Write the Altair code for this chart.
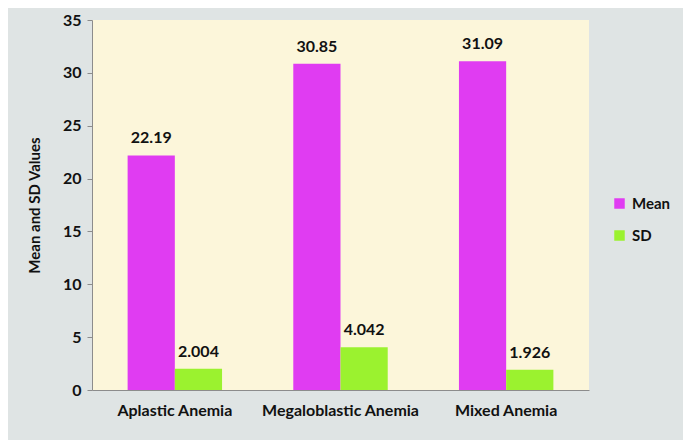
import altair as alt
import pandas as pd

categories = ["Aplastic Anemia", "Megaloblastic Anemia", "Mixed Anemia"]
series = ["Mean", "SD"]
mean_values = [22.19, 30.85, 31.09]
sd_values = [2.004, 4.042, 1.926]
mean_labels = ["22.19", "30.85", "31.09"]
sd_labels = ["2.004", "4.042", "1.926"]

rows = []
for i, c in enumerate(categories):
    rows.append({"cat": c, "series": "Mean", "value": mean_values[i], "label": mean_labels[i]})
    rows.append({"cat": c, "series": "SD", "value": sd_values[i], "label": sd_labels[i]})
df = pd.DataFrame(rows)

FONT = "Lato"

x = alt.X("cat:N", sort=categories, title=None,
          scale=alt.Scale(paddingInner=0.43, paddingOuter=0.215),
          axis=alt.Axis(labelAngle=0, labelFontSize=16, labelFontWeight="bold",
                        labelColor="#111111", labelPadding=12, ticks=False,
                        domainColor="#8c8c8c", labelFont=FONT))
xo = alt.XOffset("series:N", sort=series, scale=alt.Scale(paddingInner=0, paddingOuter=0))
y = alt.Y("value:Q", title="Mean and SD Values",
          scale=alt.Scale(domain=[0, 35], nice=False),
          axis=alt.Axis(values=[0, 5, 10, 15, 20, 25, 30, 35], grid=False,
                        labelFontSize=16, labelFontWeight="bold", labelColor="#111111",
                        labelFont=FONT, titleFont=FONT, titleFontSize=15,
                        titleFontWeight="bold", titleColor="#111111", titlePadding=20,
                        domainColor="#8c8c8c", tickColor="#8c8c8c", tickSize=5,
                        labelPadding=6))

color = alt.Color("series:N", sort=series, title=None,
                  scale=alt.Scale(domain=series, range=["#e03cf2", "#9bf22f"]),
                  legend=alt.Legend(orient="none", legendX=520, legendY=176,
                                    symbolType="square", symbolSize=110,
                                    symbolStrokeWidth=0, labelFontSize=15,
                                    labelFontWeight="bold", labelColor="#111111",
                                    labelFont=FONT, rowPadding=16, labelOffset=5))

base = alt.Chart(df)
bars = base.mark_bar(strokeWidth=0).encode(x=x, xOffset=xo, y=y, color=color)
texts = base.mark_text(baseline="bottom", dy=-9, fontSize=16, fontWeight="bold",
                       font=FONT, color="#111111").encode(
    x=x, xOffset=xo, y=y, text="label:N")

chart = alt.layer(bars, texts).properties(
    width=497, height=370,
    autosize=alt.AutoSizeParams(type="none"),
    padding={"left": 84, "top": 12, "right": 94, "bottom": 50},
    background="#dfe4e4",
).configure_view(fill="#fcf6da", stroke=None)

chart.save("out.html", embed_options={"renderer": "svg", "actions": False})
